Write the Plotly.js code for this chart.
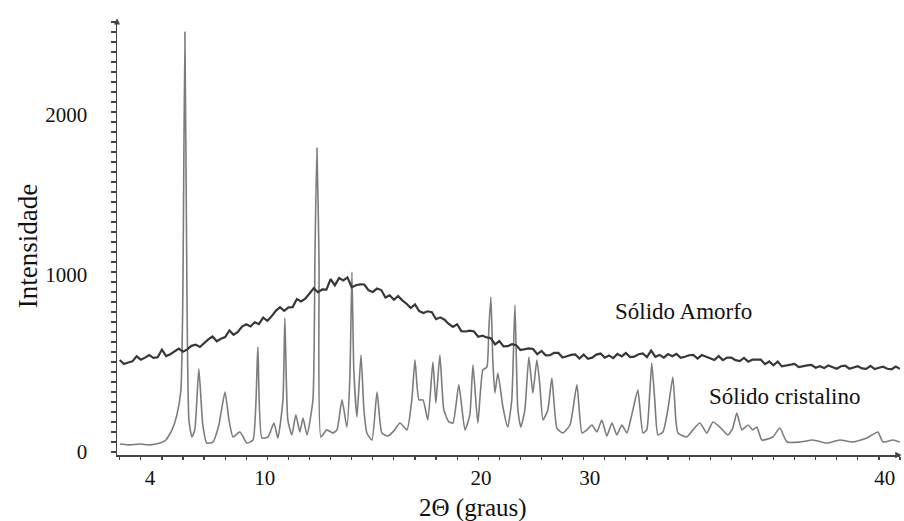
<!DOCTYPE html>
<html>
<head>
<meta charset="utf-8">
<script src="https://cdn.plot.ly/plotly-3.0.1.min.js"></script>
<style>
  html, body { margin: 0; padding: 0; background: #fff; }
  #chart { width: 904px; height: 521px; }
</style>
</head>
<body>
<div id="chart"></div>
<script>
// Difratograma de raios X: sólido cristalino vs. sólido amorfo
// 2θ em graus, intensidade em contagens

const cristalinoX = [3.01,3.48,3.96,4.43,4.90,5.19,5.48,5.71,5.90,5.99,6.09,6.19,6.28,6.42,6.56,6.75,6.94,7.13,7.42,7.70,7.99,8.18,8.37,8.70,9.03,9.32,9.55,9.74,10.03,10.31,10.50,10.74,10.83,10.97,11.16,11.35,11.54,11.69,11.88,12.16,12.26,12.35,12.45,12.54,12.82,13.11,13.30,13.54,13.77,13.91,14.01,14.10,14.25,14.44,14.58,14.72,14.96,15.20,15.43,15.72,16.00,16.29,16.62,16.85,17.00,17.19,17.38,17.61,17.85,17.99,18.18,18.37,18.61,18.80,19.08,19.37,19.60,19.75,19.98,20.22,20.41,20.50,20.60,20.69,20.79,20.93,21.17,21.40,21.59,21.74,21.88,22.02,22.21,22.40,22.59,22.78,22.92,23.07,23.30,23.49,23.73,24.01,24.35,24.68,24.92,25.15,25.39,25.63,25.86,26.10,26.34,26.57,26.81,27.05,27.28,27.57,27.81,27.99,28.14,28.23,28.37,28.52,28.76,28.99,29.23,29.37,29.47,29.89,30.18,30.51,30.84,31.13,31.46,31.84,32.07,32.26,32.50,32.79,33.02,33.21,33.45,33.97,34.30,34.64,35.25,35.87,36.53,37.15,37.77,38.43,38.95,39.19,39.66,39.99];
const cristalinoY = [47,42,47,42,53,71,131,220,368,902,2493,902,190,89,131,493,160,53,59,160,356,190,89,119,53,71,623,83,89,172,83,309,795,190,101,220,119,202,101,309,1199,1804,1140,89,131,113,131,309,148,427,1068,487,208,576,249,113,71,356,113,95,125,172,131,309,546,309,309,190,534,291,576,249,178,172,398,131,220,516,172,487,504,724,920,546,350,469,267,148,309,872,249,148,249,564,350,546,398,190,249,439,142,113,160,398,113,131,160,119,190,95,172,101,160,113,220,368,113,131,368,528,309,101,119,249,445,190,113,89,131,172,113,178,148,101,142,231,131,160,131,148,71,89,142,59,59,71,53,71,59,83,119,59,71,59];

const amorfoX = [3.0,3.2,3.4,3.6,3.8,4.0,4.2,4.4,4.6,4.8,5.0,5.2,5.4,5.6,5.8,6.0,6.2,6.4,6.6,6.8,7.0,7.2,7.4,7.6,7.8,8.0,8.2,8.4,8.6,8.8,9.0,9.2,9.4,9.6,9.8,10.0,10.2,10.4,10.6,10.8,11.0,11.2,11.4,11.6,11.8,12.0,12.2,12.4,12.6,12.8,13.0,13.2,13.4,13.6,13.8,14.0,14.2,14.4,14.6,14.8,15.0,15.2,15.4,15.6,15.8,16.0,16.2,16.4,16.6,16.8,17.0,17.2,17.4,17.6,17.8,18.0,18.2,18.4,18.6,18.8,19.0,19.2,19.4,19.6,19.8,20.0,20.2,20.4,20.6,20.8,21.0,21.2,21.4,21.6,21.8,22.0,22.2,22.4,22.6,22.8,23.0,23.2,23.4,23.6,23.8,24.0,24.2,24.4,24.6,24.8,25.0,25.2,25.4,25.6,25.8,26.0,26.2,26.4,26.6,26.8,27.0,27.2,27.4,27.6,27.8,28.0,28.2,28.4,28.6,28.8,29.0,29.2,29.4,29.6,29.8,30.0,30.2,30.4,30.6,30.8,31.0,31.2,31.4,31.6,31.8,32.0,32.2,32.4,32.6,32.8,33.0,33.2,33.4,33.6,33.8,34.0,34.2,34.4,34.6,34.8,35.0,35.2,35.4,35.6,35.8,36.0,36.2,36.4,36.6,36.8,37.0,37.2,37.4,37.6,37.8,38.0,38.2,38.4,38.6,38.8,39.0,39.2,39.4,39.6,39.8,40.0];
const amorfoY = [546,522,531,538,568,548,560,575,558,562,608,569,580,598,614,595,609,630,637,623,648,668,685,657,672,682,721,695,712,744,758,745,770,759,797,778,805,838,859,838,858,860,908,893,910,940,972,948,965,964,1026,989,1032,1018,1036,978,990,995,994,959,950,970,961,917,930,903,925,900,880,854,876,836,825,835,830,788,799,785,760,742,758,717,715,720,715,684,690,680,675,639,658,627,628,640,634,605,610,615,611,580,600,574,575,589,588,561,568,576,579,555,578,553,560,578,584,560,573,557,582,567,587,563,566,580,585,563,602,565,576,560,581,568,582,559,565,574,576,554,575,565,552,546,569,545,560,560,545,539,558,536,548,547,548,521,537,514,537,508,512,520,523,504,510,514,517,500,509,498,513,502,494,509,513,494,502,509,496,493,511,492,500,506,494,491,507,493];

// rótulos dos eixos
const xRotulosPos = [4.43, 9.88, 20.13, 25.29, 39.28];
const xRotulosTexto = ['4', '10', '20', '30', '40'];
const yRotulosPos = [0, 1050, 2000];
const yRotulosTexto = ['0', '1000', '2000'];

const serif = "'Liberation Serif', 'Times New Roman', serif";
const xRange = [2.87, 40.0];
const yRange = [-18, 2564];
const eixoCor = '#444';

const traces = [
  {
    x: cristalinoX, y: cristalinoY, type: 'scatter', mode: 'lines',
    name: 'Sólido cristalino',
    line: { color: '#7c7c7c', width: 1.6, shape: 'spline', smoothing: 0.5 }
  },
  {
    x: amorfoX, y: amorfoY, type: 'scatter', mode: 'lines',
    name: 'Sólido Amorfo',
    line: { color: '#383838', width: 2.2 }
  }
];

const layout = {
  width: 904, height: 521,
  margin: { l: 117, r: 4, t: 20, b: 66 },
  paper_bgcolor: '#fff', plot_bgcolor: '#fff',
  showlegend: false,
  font: { family: serif, color: '#111' },
  xaxis: {
    range: xRange, showgrid: false, zeroline: false,
    showline: true, linecolor: eixoCor, linewidth: 1.5,
    tickmode: 'array', tickvals: xRotulosPos, ticktext: xRotulosTexto,
    ticks: '', ticklabelstandoff: 3,
    tickfont: { family: serif, size: 21, color: '#111' },
    minor: { ticks: 'outside', tick0: 0, dtick: 1, ticklen: 3, tickcolor: eixoCor, tickwidth: 1.2 }
  },
  // marcas principais a cada 5° no eixo 2θ
  xaxis2: {
    overlaying: 'x', anchor: 'y', side: 'bottom', range: xRange,
    showgrid: false, zeroline: false, showline: false, showticklabels: false,
    tickmode: 'linear', tick0: 5, dtick: 5,
    ticks: 'outside', ticklen: 6, tickcolor: eixoCor, tickwidth: 1.3
  },
  yaxis: {
    range: yRange, showgrid: false, zeroline: false,
    showline: true, linecolor: eixoCor, linewidth: 1.5,
    tickmode: 'array', tickvals: yRotulosPos, ticktext: yRotulosTexto,
    ticks: '', ticklabelstandoff: 24,
    tickfont: { family: serif, size: 21, color: '#111' },
    minor: { ticks: 'outside', tick0: 0, dtick: 59.35, ticklen: 5, tickcolor: eixoCor, tickwidth: 1.2 }
  },
  annotations: [
    { text: '2Θ (graus)', xref: 'paper', yref: 'paper', x: 0.4547, y: -0.122,
      xanchor: 'center', yanchor: 'middle', showarrow: false,
      font: { family: serif, size: 25, color: '#111' } },
    { text: 'Intensidade', xref: 'paper', yref: 'paper', x: -0.1137, y: 0.48,
      xanchor: 'center', yanchor: 'middle', textangle: -90, showarrow: false,
      font: { family: serif, size: 27, color: '#111' } },
    { text: 'Sólido Amorfo', xref: 'x', yref: 'y', x: 26.38, y: 831,
      xanchor: 'left', yanchor: 'middle', showarrow: false,
      font: { family: serif, size: 23, color: '#111' } },
    { text: 'Sólido cristalino', xref: 'x', yref: 'y', x: 30.84, y: 332,
      xanchor: 'left', yanchor: 'middle', showarrow: false,
      font: { family: serif, size: 23, color: '#111' } },
    // pontas de seta nas extremidades dos eixos
    { text: '', xref: 'paper', yref: 'paper', x: 0, y: 1.004, ax: 0, ay: 6,
      showarrow: true, arrowhead: 2, arrowsize: 0.9, arrowwidth: 1.4, arrowcolor: eixoCor },
    { text: '', xref: 'paper', yref: 'paper', x: 1.002, y: 0, ax: -6, ay: 0,
      showarrow: true, arrowhead: 2, arrowsize: 0.9, arrowwidth: 1.4, arrowcolor: eixoCor }
  ]
};

Plotly.newPlot('chart', traces, layout, { staticPlot: true, displayModeBar: false });
</script>
</body>
</html>
